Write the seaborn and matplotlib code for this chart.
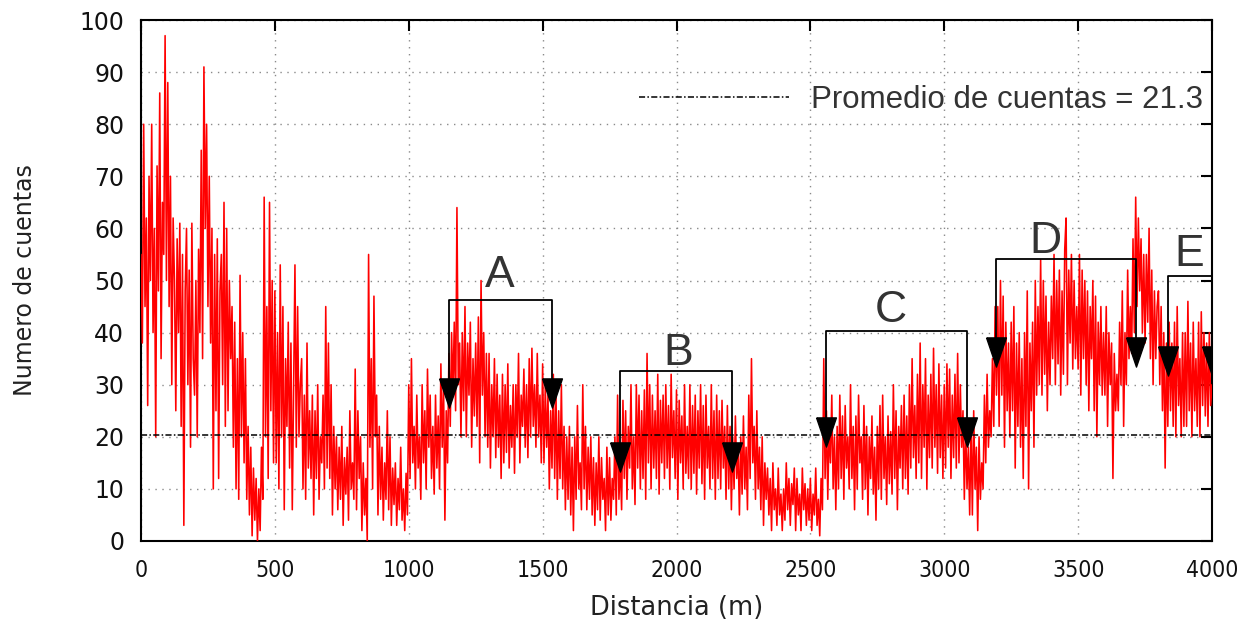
import numpy as np
import pandas as pd
import matplotlib
matplotlib.use("Agg")
import matplotlib.pyplot as plt
import seaborn as sns
from matplotlib.lines import Line2D
from matplotlib.font_manager import FontProperties

# ---------------- data (every 5 m) ----------------
step_m = 5
counts_0000 = [55, 38, 80, 45, 62, 26, 70, 50, 80, 40,
               60, 20, 72, 48, 86, 35, 65, 55, 97, 50,
               88, 45, 70, 30, 62, 50, 25, 58, 40, 61,
               22, 55, 3, 48, 60, 30, 52, 18, 61, 35,
               28, 50, 20, 56, 40, 75, 35, 91, 60, 80,
               45, 70, 38, 60, 10, 55, 25, 58, 12, 48,
               55, 30, 65, 22, 60, 25, 50, 35, 45, 18,
               42, 10, 35, 8, 51, 20, 40, 15, 35, 8,
               22, 5, 18, 1, 14, 4, 12, 0, 10, 2,
               18, 8, 66, 20, 45, 12, 65, 25, 50, 15]
counts_0500 = [48, 15, 40, 10, 53, 20, 45, 6, 35, 22,
               42, 14, 38, 6, 30, 53, 18, 45, 20, 30,
               35, 10, 28, 8, 38, 14, 25, 12, 28, 5,
               25, 12, 30, 8, 20, 15, 28, 10, 45, 14,
               38, 12, 30, 5, 22, 10, 20, 6, 18, 8,
               22, 3, 16, 9, 18, 4, 25, 10, 15, 8,
               33, 6, 25, 12, 20, 2, 15, 5, 12, 0,
               55, 18, 35, 10, 47, 20, 28, 5, 22, 8,
               18, 4, 15, 8, 25, 6, 20, 3, 14, 7,
               15, 3, 12, 6, 18, 4, 10, 2, 13, 5]
counts_1000 = [30, 12, 35, 15, 22, 10, 28, 14, 20, 8,
               30, 15, 25, 10, 33, 18, 28, 12, 22, 9,
               28, 14, 24, 10, 34, 18, 30, 4, 25, 15,
               36, 22, 40, 28, 42, 25, 64, 30, 38, 20,
               40, 25, 45, 20, 38, 28, 42, 18, 35, 24,
               38, 22, 43, 15, 50, 28, 40, 20, 36, 18,
               36, 14, 30, 20, 35, 16, 32, 18, 28, 12,
               32, 15, 30, 17, 34, 14, 26, 18, 30, 13,
               30, 20, 36, 15, 28, 22, 33, 18, 30, 16,
               35, 20, 37, 22, 30, 18, 36, 20, 28, 15]
counts_1500 = [34, 15, 30, 18, 28, 10, 25, 14, 32, 12,
               28, 8, 25, 12, 30, 10, 22, 6, 20, 8,
               22, 5, 18, 2, 20, 8, 26, 10, 15, 6,
               30, 10, 22, 6, 18, 8, 20, 5, 16, 3,
               15, 6, 20, 4, 16, 8, 12, 2, 18, 5,
               16, 4, 12, 8, 20, 5, 28, 8, 15, 6,
               27, 12, 25, 8, 22, 14, 30, 10, 20, 7,
               30, 14, 28, 10, 25, 12, 29, 8, 36, 15,
               30, 10, 28, 14, 25, 12, 32, 9, 27, 15,
               28, 12, 30, 14, 26, 10, 32, 16, 25, 12]
counts_2000 = [29, 8, 27, 15, 24, 10, 30, 13, 22, 12,
               30, 10, 26, 13, 28, 9, 25, 14, 30, 11,
               26, 8, 28, 14, 22, 10, 30, 12, 25, 8,
               28, 12, 25, 10, 27, 14, 22, 8, 26, 10,
               22, 6, 20, 10, 24, 12, 18, 5, 20, 9,
               24, 10, 18, 6, 28, 12, 35, 15, 22, 8,
               25, 10, 18, 6, 20, 3, 15, 8, 14, 5,
               12, 2, 15, 6, 10, 3, 14, 5, 9, 2,
               10, 4, 15, 6, 12, 3, 11, 7, 14, 2,
               12, 5, 9, 2, 14, 6, 11, 3, 10, 4]
counts_2500 = [12, 2, 9, 5, 14, 3, 8, 1, 12, 6,
               35, 12, 25, 8, 22, 15, 28, 10, 20, 6,
               22, 10, 28, 12, 24, 8, 26, 14, 20, 10,
               30, 12, 22, 6, 24, 10, 28, 15, 20, 8,
               26, 10, 22, 5, 20, 12, 24, 9, 18, 4,
               22, 10, 26, 8, 28, 12, 20, 7, 24, 11,
               21, 9, 30, 12, 25, 6, 22, 14, 26, 10,
               28, 12, 24, 9, 30, 14, 35, 16, 26, 12,
               32, 15, 38, 12, 30, 18, 35, 10, 28, 16,
               32, 14, 37, 18, 30, 13, 34, 16, 28, 12]
counts_3000 = [30, 14, 34, 18, 33, 12, 28, 16, 32, 14,
               36, 15, 30, 18, 25, 8, 22, 10, 18, 5,
               22, 5, 25, 10, 18, 2, 20, 8, 15, 10,
               28, 15, 32, 18, 25, 20, 35, 22, 45, 28,
               45, 22, 50, 28, 47, 18, 42, 25, 38, 20,
               42, 25, 45, 14, 38, 22, 40, 18, 35, 12,
               40, 22, 48, 10, 38, 25, 42, 18, 50, 28,
               45, 30, 54, 28, 50, 32, 47, 25, 42, 30,
               47, 35, 55, 30, 50, 34, 52, 28, 48, 32,
               56, 62, 30, 52, 38, 55, 33, 50, 35, 45]
counts_3500 = [33, 55, 28, 52, 35, 50, 30, 48, 25, 45,
               35, 50, 25, 47, 20, 42, 30, 45, 28, 40,
               28, 45, 22, 40, 30, 38, 12, 36, 25, 32,
               25, 42, 30, 48, 22, 40, 30, 52, 35, 45,
               36, 58, 40, 66, 45, 62, 48, 58, 40, 55,
               38, 55, 42, 60, 35, 52, 30, 48, 35, 45,
               48, 30, 45, 25, 40, 14, 38, 22, 42, 25,
               38, 22, 42, 20, 45, 26, 35, 20, 40, 22,
               40, 22, 46, 25, 38, 20, 42, 25, 35, 22,
               42, 20, 44, 26, 40, 24, 38, 22, 40, 26]
counts_4000 = [30]

avg_line_y = 20.4
avg_label = "Promedio de cuentas = 21.3"

zone_labels = ["A", "B", "C", "D", "E"]
zone_start = [1150, 1789, 2558, 3193, 3835]
zone_end = [1535, 2207, 3085, 3716, 4000]
zone_top = [46.3, 32.6, 40.3, 54.1, 50.9]
zone_arrow_y = [28.4, 16.1, 20.9, 36.3, 34.5]
zone_label_x = [1340, 2005, 2800, 3379, 3913]
zone_label_y = [51.0, 35.9, 44.3, 57.4, 55.0]

x_ticks = [0, 500, 1000, 1500, 2000, 2500, 3000, 3500, 4000]
y_ticks = [0, 10, 20, 30, 40, 50, 60, 70, 80, 90, 100]
x_label = "Distancia (m)"
y_label = "Numero de cuentas"

counts = (counts_0000 + counts_0500 + counts_1000 + counts_1500 + counts_2000 +
          counts_2500 + counts_3000 + counts_3500 + counts_4000)
distance = [i * step_m for i in range(len(counts))]
df = pd.DataFrame({"distancia": distance, "cuentas": counts})

# ---------------- plot ----------------
sns.set_theme(style="white")
plt.rcParams["font.family"] = ["DejaVu Sans"]

fig = plt.figure(figsize=(12.55, 6.26), dpi=100)
ax = fig.add_axes([141 / 1255, 1 - 541 / 626, (1212 - 141) / 1255, (541 - 20) / 626])

sns.lineplot(data=df, x="distancia", y="cuentas", ax=ax, color="#ff0000",
             linewidth=1.15, estimator=None, zorder=3)

dash = (0, (4, 1.5, 1, 1.5))
ax.axhline(avg_line_y, color="black", linewidth=1.1, linestyle=dash, zorder=4)

tri = [(-0.68, 1.0), (0.68, 1.0), (0.0, -1.0), (-0.68, 1.0)]
for lab, xs, xe, top, ay, lx, ly in zip(zone_labels, zone_start, zone_end, zone_top,
                                        zone_arrow_y, zone_label_x, zone_label_y):
    ax.plot([xs, xs, xe, xe], [ay, top, top, ay], color="black", linewidth=1.3,
            zorder=5, clip_on=True)
    ax.plot([xs, xe], [ay, ay], linestyle="none", marker=tri, markersize=21,
            color="black", zorder=6, clip_on=True)
    ax.text(lx, ly, lab, ha="center", va="center", fontsize=32,
            family=["Liberation Sans", "DejaVu Sans"], color="#333333", zorder=7)

ax.set_xlim(0, 4000)
ax.set_ylim(0, 100)
ax.set_xticks(x_ticks)
ax.set_yticks(y_ticks)
ax.set_xticklabels([str(t) for t in x_ticks])
ax.set_yticklabels([str(t) for t in y_ticks])
ax.grid(True, color="#8a8a8a", linestyle=(0, (1, 4)), linewidth=1.0, zorder=0)

xfp = FontProperties(family="DejaVu Sans", stretch="condensed", size=16.5)
yfp = FontProperties(family="DejaVu Sans", size=17)
for lbl in ax.get_xticklabels():
    lbl.set_fontproperties(xfp)
    lbl.set_color("#111111")
for lbl in ax.get_yticklabels():
    lbl.set_fontproperties(yfp)
    lbl.set_color("#111111")
ax.tick_params(axis="both", which="both", direction="in", length=8, width=1.5,
               top=True, right=True, colors="black")
ax.tick_params(axis="x", pad=13, labelcolor="#111111")
ax.tick_params(axis="y", pad=12, labelcolor="#111111")

ax.set_xlabel(x_label, fontsize=18.5, color="#222222", va="center")
ax.set_ylabel(y_label, fontsize=17, color="#222222", va="center")
ax.xaxis.set_label_coords(0.5, -0.1286)
ax.yaxis.set_label_coords(-0.108, 0.5)

for sp in ax.spines.values():
    sp.set_visible(True)
    sp.set_color("black")
    sp.set_linewidth(1.5)

handle = Line2D([], [], color="black", linewidth=1.1, linestyle=dash)
leg = ax.legend([handle], [avg_label], loc="center right",
                bbox_to_anchor=(0.9916, 0.8464), frameon=False, borderpad=0,
                borderaxespad=0, handlelength=4.8, handletextpad=0.7,
                prop=dict(family=["Liberation Sans", "DejaVu Sans"], size=22.5))
for t in leg.get_texts():
    t.set_color("#333333")

fig.savefig("out.png", dpi=100)
